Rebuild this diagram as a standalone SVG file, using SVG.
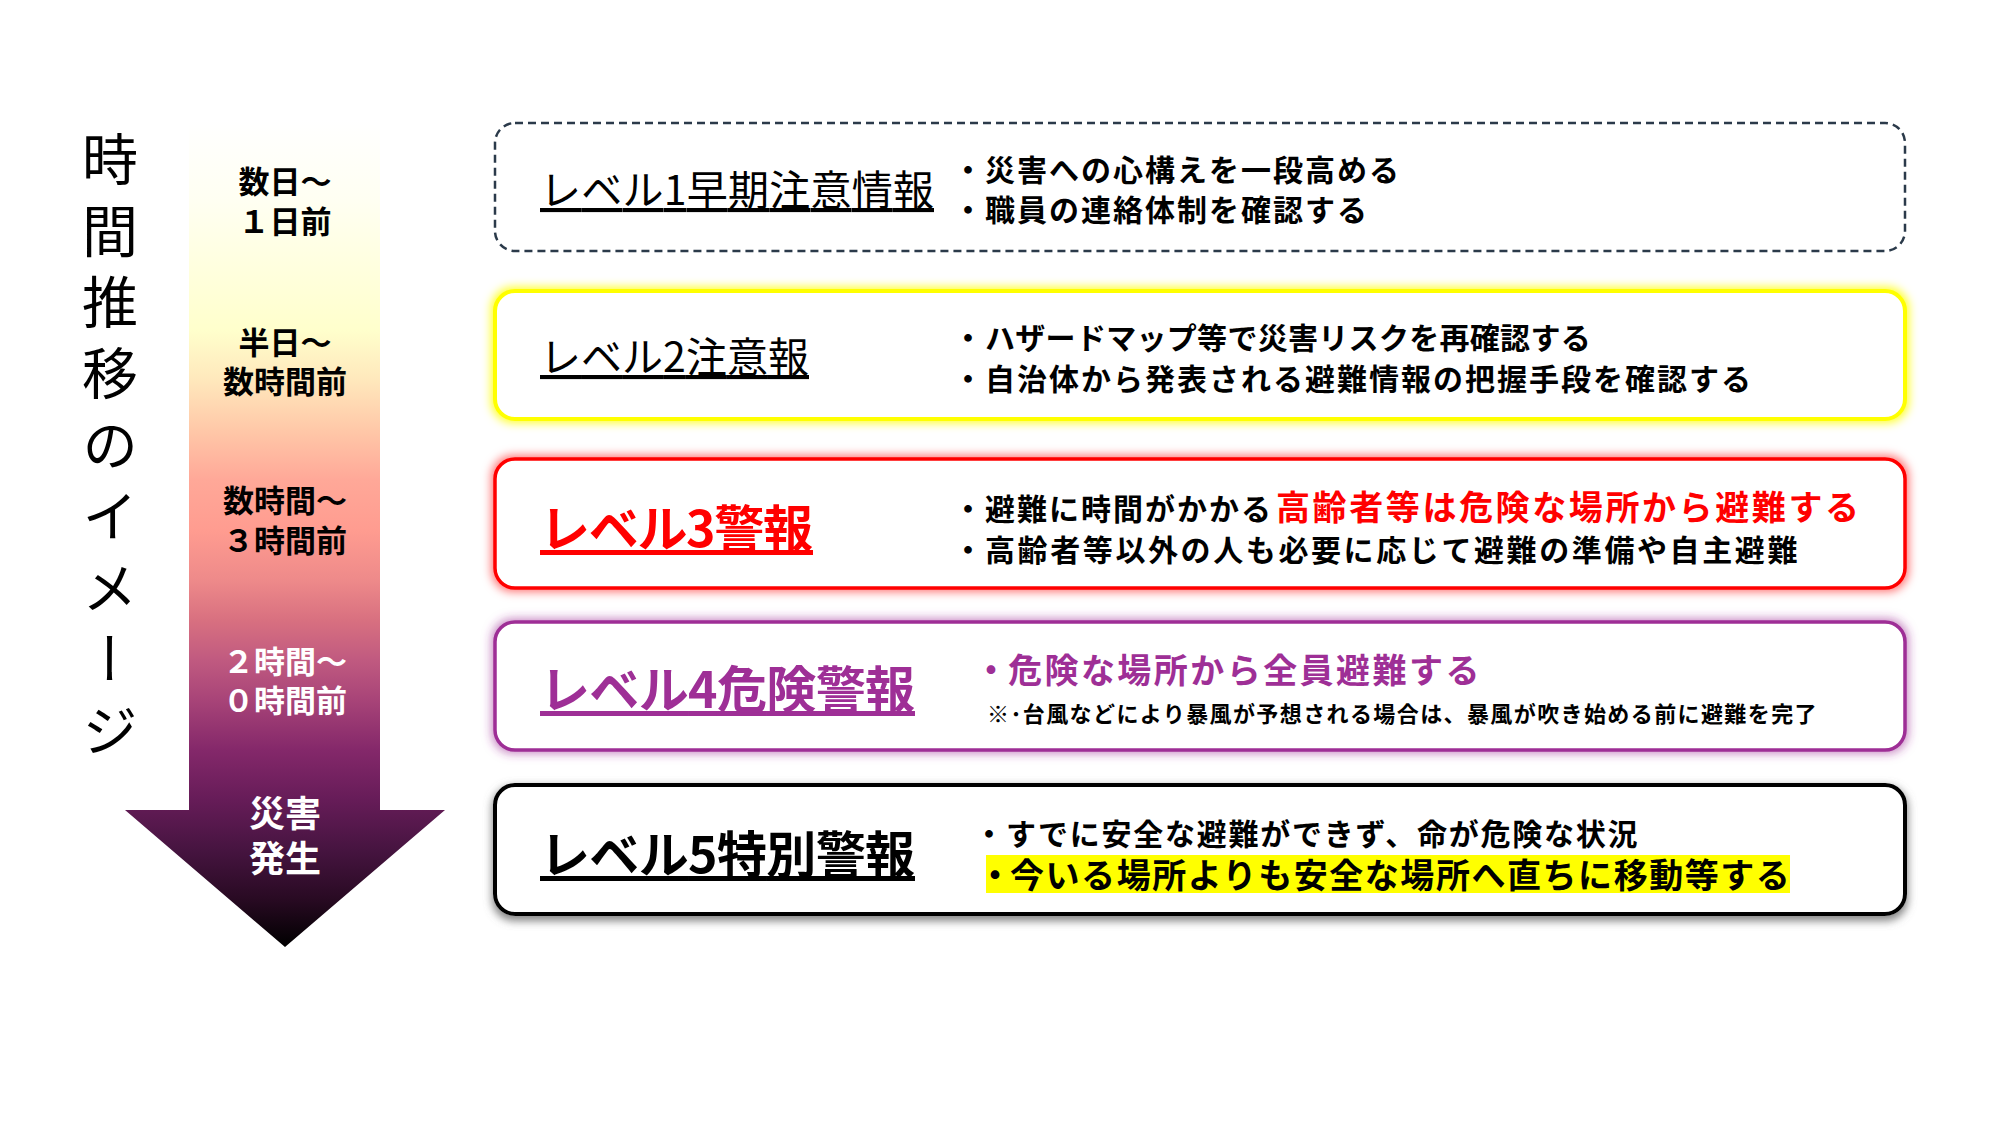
<svg xmlns="http://www.w3.org/2000/svg" width="2000" height="1125" viewBox="0 0 2000 1125">
<style>
text{font-family:"Noto Sans CJK JP","Noto Sans CJK SC",sans-serif;}
.vt{font-size:56px;writing-mode:vertical-rl;letter-spacing:15.4px;fill:#000;}
.tl{font-size:31px;font-weight:700;text-anchor:middle;fill:#000;}
.tlw{font-size:31px;font-weight:700;text-anchor:middle;fill:#fff;}
.tlb{font-size:36px;font-weight:700;text-anchor:middle;fill:#fff;}
.box{fill:#fff;}
.t12{font-size:41px;font-weight:400;fill:#000;text-decoration:underline;}
.t345{font-size:50px;font-weight:700;text-decoration:underline;}
.b{font-size:30px;font-weight:700;fill:#000;letter-spacing:2px;}
.bl{font-size:34px;font-weight:700;letter-spacing:2.6px;}
.sm{font-size:22px;font-weight:700;fill:#000;letter-spacing:1.4px;}
</style>
<defs>
<linearGradient id="arrowGrad" gradientUnits="userSpaceOnUse" x1="0" y1="120" x2="0" y2="947">
<stop offset="0" stop-color="#FFFFFF"/>
<stop offset="0.097" stop-color="#FFFFF2"/>
<stop offset="0.254" stop-color="#FFFFCC"/>
<stop offset="0.314" stop-color="#FFE8BC"/>
<stop offset="0.375" stop-color="#FFC8A8"/>
<stop offset="0.435" stop-color="#FFA898"/>
<stop offset="0.496" stop-color="#FF9C90"/>
<stop offset="0.556" stop-color="#EE8A8A"/>
<stop offset="0.605" stop-color="#D87080"/>
<stop offset="0.653" stop-color="#C05A80"/>
<stop offset="0.701" stop-color="#A84478"/>
<stop offset="0.762" stop-color="#84286A"/>
<stop offset="0.822" stop-color="#661C58"/>
<stop offset="0.883" stop-color="#461440"/>
<stop offset="0.943" stop-color="#280A22"/>
<stop offset="1" stop-color="#000000"/>
</linearGradient>
<filter id="glowY" x="-3%" y="-25%" width="106%" height="150%">
<feMorphology in="SourceAlpha" operator="dilate" radius="2" result="d"/>
<feGaussianBlur in="d" stdDeviation="5" result="bl"/>
<feFlood flood-color="#FFFF00" flood-opacity="0.85"/>
<feComposite in2="bl" operator="in" result="g"/>
<feMerge><feMergeNode in="g"/><feMergeNode in="SourceGraphic"/></feMerge>
</filter>
<filter id="glowR" x="-3%" y="-25%" width="106%" height="150%">
<feMorphology in="SourceAlpha" operator="dilate" radius="2" result="d"/>
<feGaussianBlur in="d" stdDeviation="5" result="bl"/>
<feFlood flood-color="#FF0000" flood-opacity="0.55"/>
<feComposite in2="bl" operator="in" result="g"/>
<feMerge><feMergeNode in="g"/><feMergeNode in="SourceGraphic"/></feMerge>
</filter>
<filter id="glowP" x="-3%" y="-25%" width="106%" height="150%">
<feMorphology in="SourceAlpha" operator="dilate" radius="2" result="d"/>
<feGaussianBlur in="d" stdDeviation="5" result="bl"/>
<feFlood flood-color="#9E2F96" flood-opacity="0.55"/>
<feComposite in2="bl" operator="in" result="g"/>
<feMerge><feMergeNode in="g"/><feMergeNode in="SourceGraphic"/></feMerge>
</filter>
<filter id="shadowK" x="-3%" y="-25%" width="106%" height="150%">
<feMorphology in="SourceAlpha" operator="dilate" radius="1" result="d"/>
<feGaussianBlur in="d" stdDeviation="4" result="bl"/>
<feOffset in="bl" dx="0" dy="4" result="o"/>
<feFlood flood-color="#707070" flood-opacity="0.85"/>
<feComposite in2="o" operator="in" result="g"/>
<feMerge><feMergeNode in="g"/><feMergeNode in="SourceGraphic"/></feMerge>
</filter>
</defs>
<rect width="2000" height="1125" fill="#fff"/>

<g id="title">
<text class="vt" x="110" y="131">時間推移のイメージ</text>
</g>

<g id="time-arrow">
<path d="M189,120 L380,120 L380,810 L445,810 L285,947 L125,810 L189,810 Z" fill="url(#arrowGrad)"/>
<text class="tl" x="285" y="193">数日～</text>
<text class="tl" x="285" y="233">１日前</text>
<text class="tl" x="285" y="354">半日～</text>
<text class="tl" x="285" y="393">数時間前</text>
<text class="tl" x="285" y="512">数時間～</text>
<text class="tl" x="285" y="552">３時間前</text>
<text class="tlw" x="285" y="673">２時間～</text>
<text class="tlw" x="285" y="712">０時間前</text>
<text class="tlb" x="285" y="827">災害</text>
<text class="tlb" x="285" y="872">発生</text>
</g>

<g id="level1">
<rect class="box" x="495" y="123" width="1410" height="128" rx="20" stroke="#2B3A4A" stroke-width="2.5" stroke-dasharray="8 5"/>
<text class="t12" x="540" y="205" textLength="394">レベル1早期注意情報</text>
<text class="b" y="181"><tspan x="953">・</tspan><tspan x="985">災害への心構えを一段高める</tspan></text>
<text class="b" y="221"><tspan x="953">・</tspan><tspan x="985">職員の連絡体制を確認する</tspan></text>
</g>

<g id="level2">
<rect class="box" x="495" y="291" width="1410" height="128" rx="20" stroke="#FFFF00" stroke-width="4" filter="url(#glowY)"/>
<text class="t12" x="540" y="372" textLength="269">レベル2注意報</text>
<text class="b" y="349"><tspan x="953">・</tspan><tspan x="985" style="letter-spacing:0.3px">ハザードマップ等で災害リスクを再確認する</tspan></text>
<text class="b" y="390"><tspan x="953">・</tspan><tspan x="985">自治体から発表される避難情報の把握手段を確認する</tspan></text>
</g>

<g id="level3">
<rect class="box" x="495" y="459" width="1410" height="129" rx="20" stroke="#FF0000" stroke-width="3.5" filter="url(#glowR)"/>
<text class="t345" x="540" y="547" fill="#FF0000" textLength="273">レベル3警報</text>
<text y="520"><tspan class="b" x="953">・</tspan><tspan class="b" x="985">避難に時間がかかる</tspan><tspan class="bl" x="1276" fill="#FF0000">高齢者等は危険な場所から避難する</tspan></text>
<text class="b" y="561"><tspan x="953">・</tspan><tspan x="985" style="letter-spacing:2.6px">高齢者等以外の人も必要に応じて避難の準備や自主避難</tspan></text>
</g>

<g id="level4">
<rect class="box" x="495" y="622" width="1410" height="128" rx="20" stroke="#9E2F96" stroke-width="3.5" filter="url(#glowP)"/>
<text class="t345" x="540" y="708" fill="#9E2F96" textLength="375">レベル4危険警報</text>
<text class="bl" y="683" fill="#9E2F96" style="letter-spacing:2.45px"><tspan x="974">・</tspan><tspan x="1008">危険な場所から全員避難する</tspan></text>
<text class="sm" x="987" y="722">※･台風などにより暴風が予想される場合は、暴風が吹き始める前に避難を完了</text>
</g>

<g id="level5">
<rect class="box" x="495" y="785" width="1410" height="129" rx="20" stroke="#000" stroke-width="4" filter="url(#shadowK)"/>
<text class="t345" x="540" y="873" fill="#000" textLength="375">レベル5特別警報</text>
<text class="b" y="845" style="letter-spacing:1.75px"><tspan x="974">・</tspan><tspan x="1006">すでに安全な避難ができず、命が危険な状況</tspan></text>
<rect x="986" y="855" width="804" height="38" fill="#FFFF00"/>
<text class="bl" y="888" fill="#000" style="letter-spacing:1.55px"><tspan x="978">・</tspan><tspan x="1010">今いる場所よりも安全な場所へ直ちに移動等する</tspan></text>
</g>
</svg>
